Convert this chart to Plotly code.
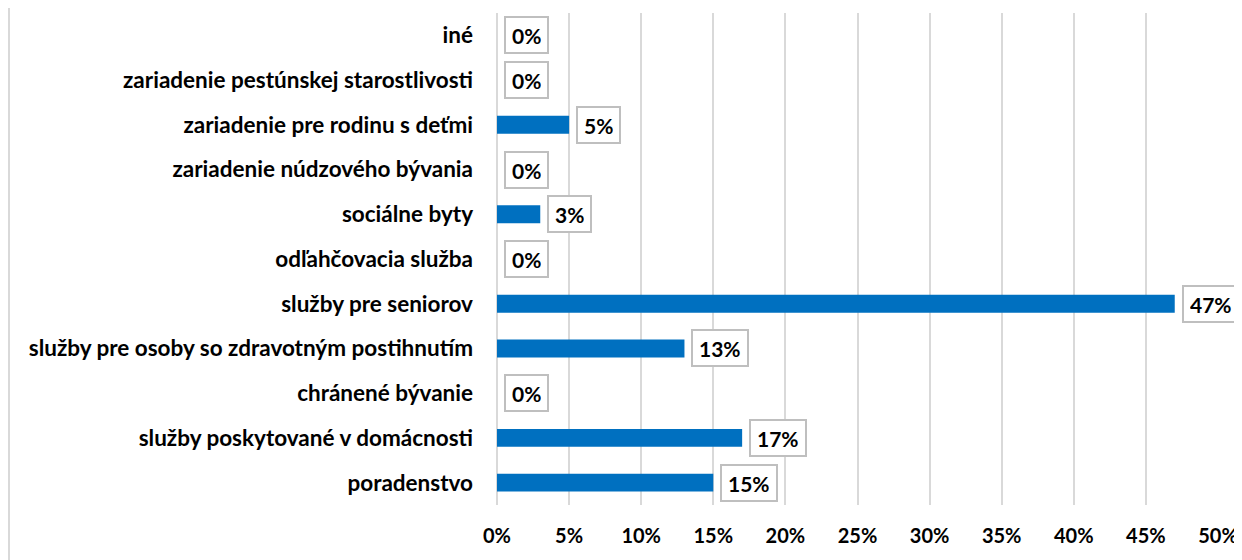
import plotly.graph_objects as go

categories = [
    "poradenstvo",
    "služby poskytované v domácnosti",
    "chránené bývanie",
    "služby pre osoby so zdravotným postihnutím",
    "služby pre seniorov",
    "odľahčovacia služba",
    "sociálne byty",
    "zariadenie núdzového bývania",
    "zariadenie pre rodinu s deťmi",
    "zariadenie pestúnskej starostlivosti",
    "iné",
]
values = [15, 17, 0, 13, 47, 0, 3, 0, 5, 0, 0]
tick_vals = [0, 5, 10, 15, 20, 25, 30, 35, 40, 45, 50]
tick_text = [f"{v}%" for v in tick_vals]

FONT = "Lato"

fig = go.Figure()
fig.add_trace(go.Bar(
    y=categories, x=values, orientation="h",
    marker=dict(color="#0070C0", line=dict(width=0)),
    width=0.4, hoverinfo="x+y",
))

for c, v in zip(categories, values):
    fig.add_annotation(
        x=v, y=c, xref="x", yref="y",
        text=f"<b>{v}%</b>", showarrow=False,
        xanchor="left", yanchor="middle", xshift=7,
        height=22,
        bgcolor="white", bordercolor="#BFBFBF", borderwidth=2, borderpad=6,
        font=dict(family=FONT, size=21, color="black"),
    )

# figure is placed at (8, 8) in the page (default body margin)
W, H = 1234, 552
L, R, T, B = 489, 24, 5, 55
pw, ph = W - L - R, H - T - B

# left border line of the chart area
fig.add_shape(type="line", xref="paper", yref="paper",
              x0=(1 - L) / pw, x1=(1 - L) / pw, y0=-B / ph, y1=1 + T / ph,
              line=dict(color="#D9D9D9", width=2))

fig.update_layout(
    width=W, height=H,
    margin=dict(l=L, r=R, t=T, b=B, pad=0),
    plot_bgcolor="white", paper_bgcolor="white",
    showlegend=False,
    font=dict(family=FONT, size=22, color="black"),
    xaxis=dict(
        range=[0, 50], tickvals=tick_vals, ticktext=[f"<b>{t}</b>" for t in tick_text],
        showgrid=True, gridcolor="#D9D9D9", gridwidth=2,
        zeroline=True, zerolinecolor="#D9D9D9", zerolinewidth=2,
        showline=False, ticks="", ticklabelstandoff=17,
        tickfont=dict(family=FONT, size=20, color="black"),
        automargin=False,
    ),
    yaxis=dict(
        categoryorder="array", categoryarray=categories,
        range=[-0.5, 10.5],
        tickvals=categories, ticktext=[f"<b>{c}</b>" for c in categories],
        showgrid=False, ticks="", ticklabelstandoff=23,
        tickfont=dict(family=FONT, size=22.5, color="black"),
        automargin=False,
    ),
)

fig.write_html("out.html")
